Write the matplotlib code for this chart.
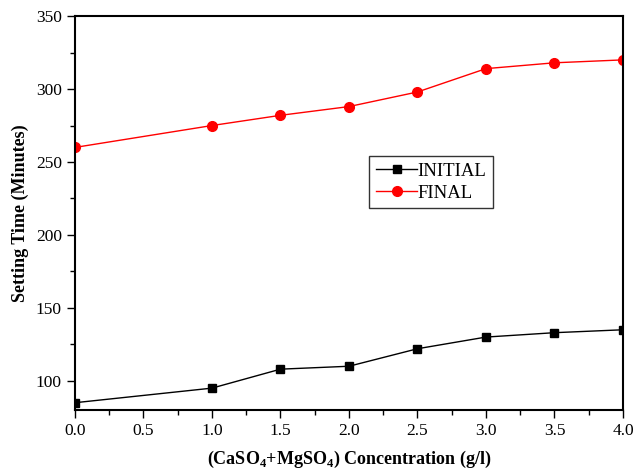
import matplotlib
matplotlib.use("Agg")
import matplotlib.pyplot as plt
from matplotlib.ticker import MultipleLocator

conc = [0.0, 1.0, 1.5, 2.0, 2.5, 3.0, 3.5, 4.0]
initial = [85, 95, 108, 110, 122, 130, 133, 135]
final = [260, 275, 282, 288, 298, 314, 318, 320]

plt.rcParams["font.family"] = ["Liberation Serif", "DejaVu Serif"]
plt.rcParams["mathtext.fontset"] = "custom"
plt.rcParams["mathtext.rm"] = "Liberation Serif"
plt.rcParams["mathtext.bf"] = "Liberation Serif:bold"

fig = plt.figure(figsize=(6.34, 4.74), dpi=100)
ax = fig.add_axes([0.1183, 0.135, 0.8643, 0.831])

ax.plot(conc, initial, color="black", marker="s", markersize=6, linewidth=1,
        label="INITIAL")
ax.plot(conc, final, color="red", marker="o", markersize=7, linewidth=1,
        label="FINAL")

ax.set_xlim(0, 4)
ax.set_ylim(80, 350)
ax.xaxis.set_major_locator(MultipleLocator(0.5))
ax.xaxis.set_minor_locator(MultipleLocator(0.25))
ax.yaxis.set_major_locator(MultipleLocator(50))
ax.yaxis.set_minor_locator(MultipleLocator(25))
ax.set_yticks([100, 150, 200, 250, 300, 350])
ax.xaxis.set_major_formatter(plt.FormatStrFormatter("%.1f"))
ax.tick_params(which="major", length=6, width=1, labelsize=12.5)
ax.tick_params(which="minor", length=3.5, width=1)
for s in ax.spines.values():
    s.set_linewidth(1.5)

ax.set_xlabel(r"(CaSO$_\mathbf{4}$+MgSO$_\mathbf{4}$) Concentration (g/l)",
              fontsize=13, fontweight="bold", labelpad=7)
ax.set_ylabel("Setting Time (Minutes)", fontsize=13, fontweight="bold",
              labelpad=5)

leg = ax.legend(loc="upper left", bbox_to_anchor=(0.52, 0.668), fontsize=13.5,
                frameon=True, fancybox=False, edgecolor="black",
                handlelength=2.2, handletextpad=0.0, borderpad=0.35,
                labelspacing=0.25)
leg.get_frame().set_linewidth(1)

fig.savefig("out.png", dpi=100)
